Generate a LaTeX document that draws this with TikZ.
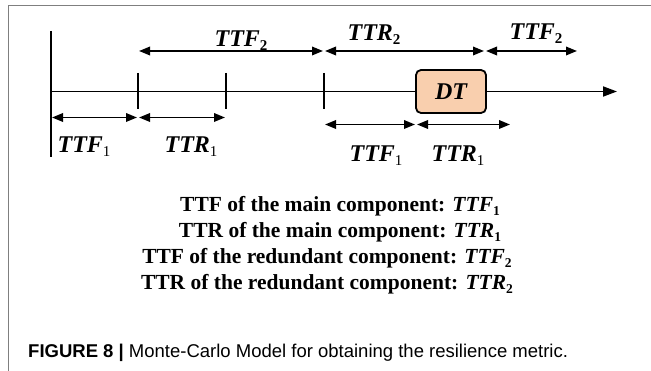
\documentclass[tikz,border=0pt]{standalone}
\usepackage{fontspec}
\setmainfont{Liberation Serif}
\newfontfamily\capfont{Liberation Sans}
\usetikzlibrary{arrows.meta}
\definecolor{dtfill}{HTML}{F9CFAE}
\definecolor{framegray}{HTML}{7F7F7F}
\newcommand\lab[2]{{\bfseries\itshape #1}\raisebox{-0.15em}{\fontsize{15}{15}\selectfont #2}}
\newcommand\labb[2]{{\bfseries\itshape #1}\raisebox{-0.15em}{\fontsize{15}{15}\selectfont\bfseries #2}}
\newcommand\slab[2]{{\bfseries\itshape #1}\raisebox{-0.15em}{\fontsize{13.5}{13.5}\selectfont #2}}
\newcommand\slabb[2]{{\bfseries\itshape #1}\raisebox{-0.15em}{\fontsize{13.5}{13.5}\selectfont\bfseries #2}}
\tikzset{
  axisline/.style={line width=1.8pt},
  tickline/.style={line width=1.8pt},
  span/.style={line width=1.8pt,{Triangle[length=11pt,width=8.5pt]}-{Triangle[length=11pt,width=8.5pt]}},
  lbl/.style={inner sep=0pt,anchor=base,font=\fontsize{24}{28}\selectfont},
  txt/.style={inner sep=0pt,anchor=base,font=\fontsize{21.5}{26}\selectfont\bfseries},
  dtbox/.style={draw,line width=1.8pt,fill=dtfill,rounded corners=5pt,minimum width=70pt,minimum height=43pt,inner sep=0pt,font=\fontsize{24}{28}\selectfont\bfseries\itshape}
}
\begin{document}
\begin{tikzpicture}[x=1pt,y=-1pt]
\useasboundingbox (0,0) rectangle (651,371);
\fill[white] (0,0) rectangle (651,371);
% frame
\coordinate (fa) at (8,371);
\coordinate (fb) at (8,6);
\coordinate (fc) at (651,6);
\draw[framegray,line width=1pt] (fa) -- (fb) -- (fc);
% main vertical line
\coordinate (v0) at (51,31);
\coordinate (v1) at (51,157);
\draw[axisline] (v0) -- (v1);
% axis
\coordinate (a0) at (51,91.5);
\coordinate (a1) at (617,91.5);
\node[dtbox] (dt) at (451,91.5) {DT};
\draw[axisline] (a0) -- (dt.west);
\draw[axisline,-{Triangle[length=14pt,width=10pt]}] (dt.east) -- (a1);
% ticks
\foreach \n/\x in {t1/138,t2/226,t3/324}{
  \coordinate (\n a) at (\x,73);
  \coordinate (\n b) at (\x,109);
  \draw[tickline] (\n a) -- (\n b);
}
% top spans
\coordinate (p0) at (139,51);
\coordinate (p1) at (323,51);
\coordinate (p2) at (325,51);
\coordinate (p3) at (484,51);
\coordinate (p4) at (486,51);
\coordinate (p5) at (577,51);
\draw[span] (p0) -- (p1);
\draw[span] (p2) -- (p3);
\draw[span] (p4) -- (p5);
% bottom-left spans
\coordinate (q0) at (52,117.5);
\coordinate (q1) at (137,117.5);
\coordinate (q2) at (139,117.5);
\coordinate (q3) at (225,117.5);
\draw[span] (q0) -- (q1);
\draw[span] (q2) -- (q3);
% bottom-right spans
\coordinate (r0) at (325,124.5);
\coordinate (r1) at (415,124.5);
\coordinate (r2) at (417,124.5);
\coordinate (r3) at (510,124.5);
\draw[span] (r0) -- (r1);
\draw[span] (r2) -- (r3);
% labels
\node[lbl] (l1) at (241,46.5) {\labb{TTF}{2}};
\node[lbl] (l2) at (374,40.5) {\labb{TTR}{2}};
\node[lbl] (l3) at (536,40) {\labb{TTF}{2}};
\node[lbl] (l4) at (84,152.5) {\lab{TTF}{1}};
\node[lbl] (l5) at (191,152.5) {\lab{TTR}{1}};
\node[lbl] (l6) at (376,162) {\lab{TTF}{1}};
\node[lbl] (l7) at (458,162) {\lab{TTR}{1}};
% text lines
\node[txt] (s1) at (340,212) {TTF of the main component: \slab{TTF}{1}};
\node[txt] (s2) at (340,238) {TTR of the main component: \slab{TTR}{1}};
\node[txt] (s3) at (327,264) {TTF of the redundant component: \slabb{TTF}{2}};
\node[txt] (s4) at (327,290) {TTR of the redundant component: \slabb{TTR}{2}};
% caption
\node[inner sep=0pt,anchor=base west,font=\fontsize{18.5}{22}\selectfont\capfont] (cap) at (28,358) {\textbf{FIGURE 8 |} Monte-Carlo Model for obtaining the resilience metric.};
\end{tikzpicture}
\end{document}
